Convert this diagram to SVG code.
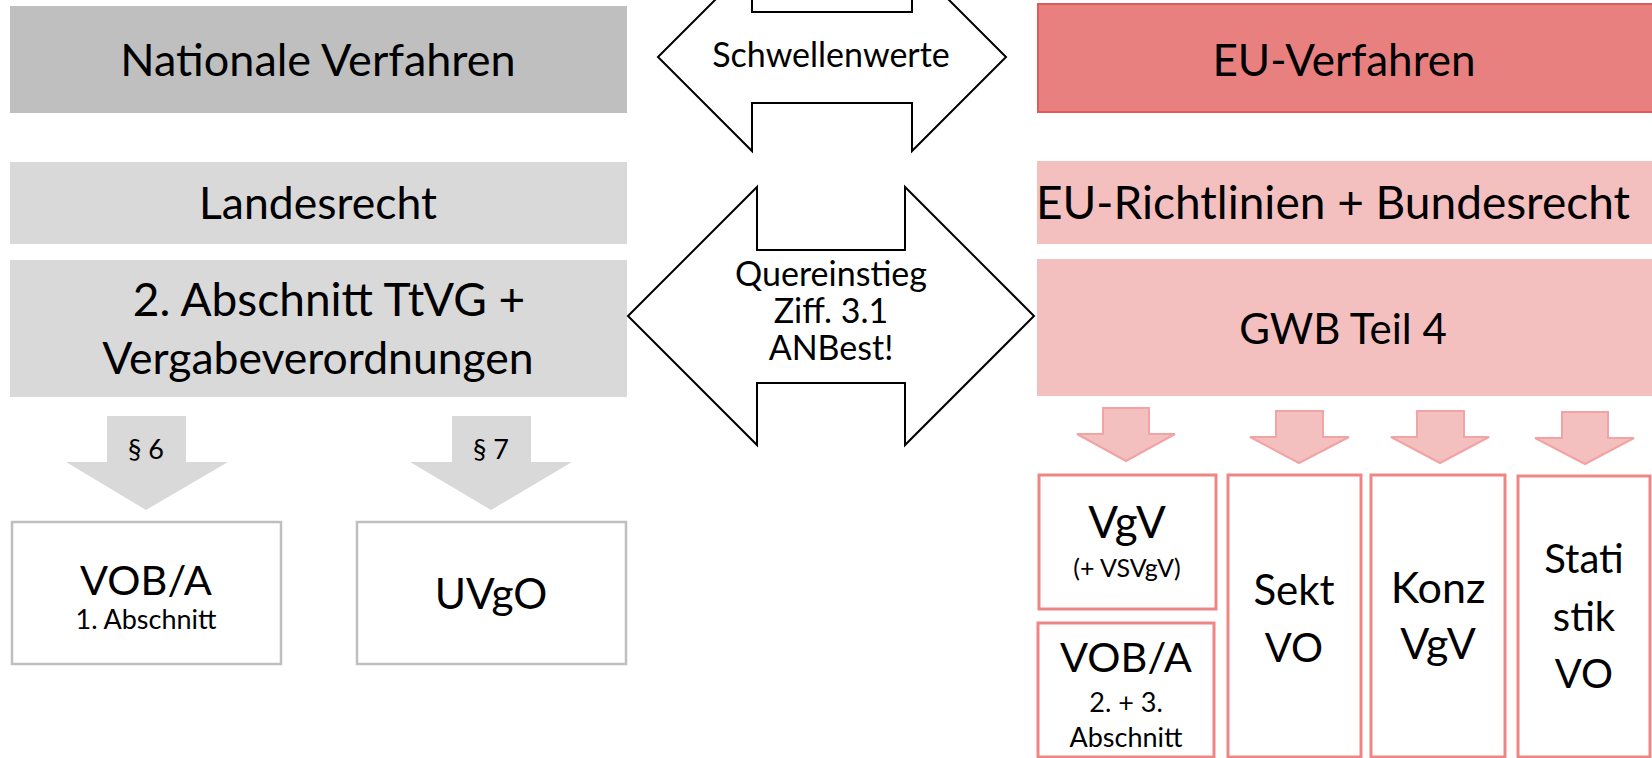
<svg xmlns="http://www.w3.org/2000/svg" width="1652" height="758" viewBox="0 0 1652 758">
<style>
text{font-family:Lato,"Open Sans","Liberation Sans",sans-serif;fill:#000;text-anchor:middle}
.big{font-size:40px}
.mid{font-size:34px}
.sec{font-size:27px}
.small{font-size:27px}
.tiny{font-size:25px}
.dark{fill:#bfbfbf}
.light{fill:#d9d9d9}
.eu{fill:#e88080;stroke:#e05a5a;stroke-width:2}
.pink{fill:#f4bfbf}
.gbox{fill:#fff;stroke:#bfbfbf;stroke-width:2.5}
.rbox{fill:#fff;stroke:#ee8686;stroke-width:3}
.garrow{fill:#d9d9d9}
.rarrow{fill:#f4bfbf;stroke:#f2a3a3;stroke-width:2}
.dbl{fill:#fff;stroke:#000;stroke-width:2}
</style>
<rect width="1652" height="758" fill="#fff"/>

<g id="nationale"><rect class="dark" x="10" y="6" width="617" height="107"/><text class="big" style="font-size:45px" x="318" y="76">Nationale Verfahren</text></g>
<g id="landesrecht"><rect class="light" x="10" y="162" width="617" height="82"/><text class="big" style="font-size:44.5px" x="318" y="219">Landesrecht</text></g>
<g id="abschnitt"><rect class="light" x="10" y="260" width="617" height="137"/><text class="big" style="font-size:46px" x="329" y="316">2. Abschnitt TtVG +</text><text class="big" style="font-size:44.5px" x="318" y="374">Vergabeverordnungen</text></g>

<g id="euverfahren"><rect class="eu" x="1038" y="4" width="620" height="108"/><text class="big" style="font-size:44px" x="1344" y="76">EU-Verfahren</text></g>
<g id="eurichtlinien"><rect class="pink" x="1037" y="161" width="615" height="83"/><text class="big" style="font-size:46px" x="1333" y="219">EU-Richtlinien + Bundesrecht</text></g>
<g id="gwb"><rect class="pink" x="1037" y="259" width="615" height="137"/><text class="big" style="font-size:42px" x="1343" y="344">GWB Teil 4</text></g>

<g id="schwellenwerte"><polygon class="dbl" points="658,57 752,-37 752,12 912,12 912,-37 1006,57 912,151 912,103 752,103 752,151"/><text class="mid" x="831" y="67">Schwellenwerte</text></g>
<g id="quereinstieg"><polygon class="dbl" points="628,316 757,187 757,250 905,250 905,187 1034,316 905,445 905,383 757,383 757,445"/><text class="mid" x="831" y="286">Quereinstieg</text><text class="mid" x="831" y="323">Ziff. 3.1</text><text class="mid" x="831" y="360">ANBest!</text></g>

<g id="connectors">
<polygon class="garrow" points="107,416 186,416 186,462 228,462 146,510 66,462 107,462"/>
<text class="sec" x="146" y="459">§ 6</text>
<polygon class="garrow" points="452,416 531,416 531,462 572,462 491,510 410,462 452,462"/>
<text class="sec" x="491" y="459">§ 7</text>
<polygon class="rarrow" points="1103,408 1149,408 1149,434 1175,434 1126,461 1077,434 1103,434"/>
<polygon class="rarrow" points="1276,411 1323,411 1323,437 1349,437 1299,463 1250,437 1276,437"/>
<polygon class="rarrow" points="1417,411 1464,411 1464,437 1489,437 1440,463 1391,437 1417,437"/>
<polygon class="rarrow" points="1562,412 1608,412 1608,438 1634,438 1585,464 1535,438 1562,438"/>
</g>

<g id="voba1"><rect class="gbox" x="12" y="522" width="269" height="142"/><text class="big" style="font-size:41.5px" x="146" y="595">VOB/A</text><text class="small" x="146" y="629">1. Abschnitt</text></g>
<g id="uvgo"><rect class="gbox" x="357" y="522" width="269" height="142"/><text class="big" style="font-size:42.5px" x="491" y="609">UVgO</text></g>

<g id="vgv"><rect class="rbox" x="1039" y="475" width="177" height="134"/><text class="big" style="font-size:44px" x="1127" y="538">VgV</text><text class="tiny" x="1127" y="577">(+ VSVgV)</text></g>
<g id="voba23"><rect class="rbox" x="1038" y="623" width="176" height="134"/><text class="big" style="font-size:41.5px" x="1126" y="672">VOB/A</text><text class="small" x="1126" y="712">2. + 3.</text><text class="small" x="1126" y="747">Abschnitt</text></g>
<g id="sektvo"><rect class="rbox" x="1228" y="475" width="133" height="282"/><text class="big" style="font-size:42px" x="1294" y="605">Sekt</text><text class="big" x="1294" y="662">VO</text></g>
<g id="konzvgv"><rect class="rbox" x="1371" y="475" width="134" height="282"/><text class="big" style="font-size:43px" x="1438" y="603">Konz</text><text class="big" style="font-size:43px" x="1438" y="659">VgV</text></g>
<g id="statistikvo"><rect class="rbox" x="1518" y="476" width="132" height="281"/><text class="big" x="1584" y="573">Stati</text><text class="big" x="1584" y="631">stik</text><text class="big" x="1584" y="688">VO</text></g>
</svg>
